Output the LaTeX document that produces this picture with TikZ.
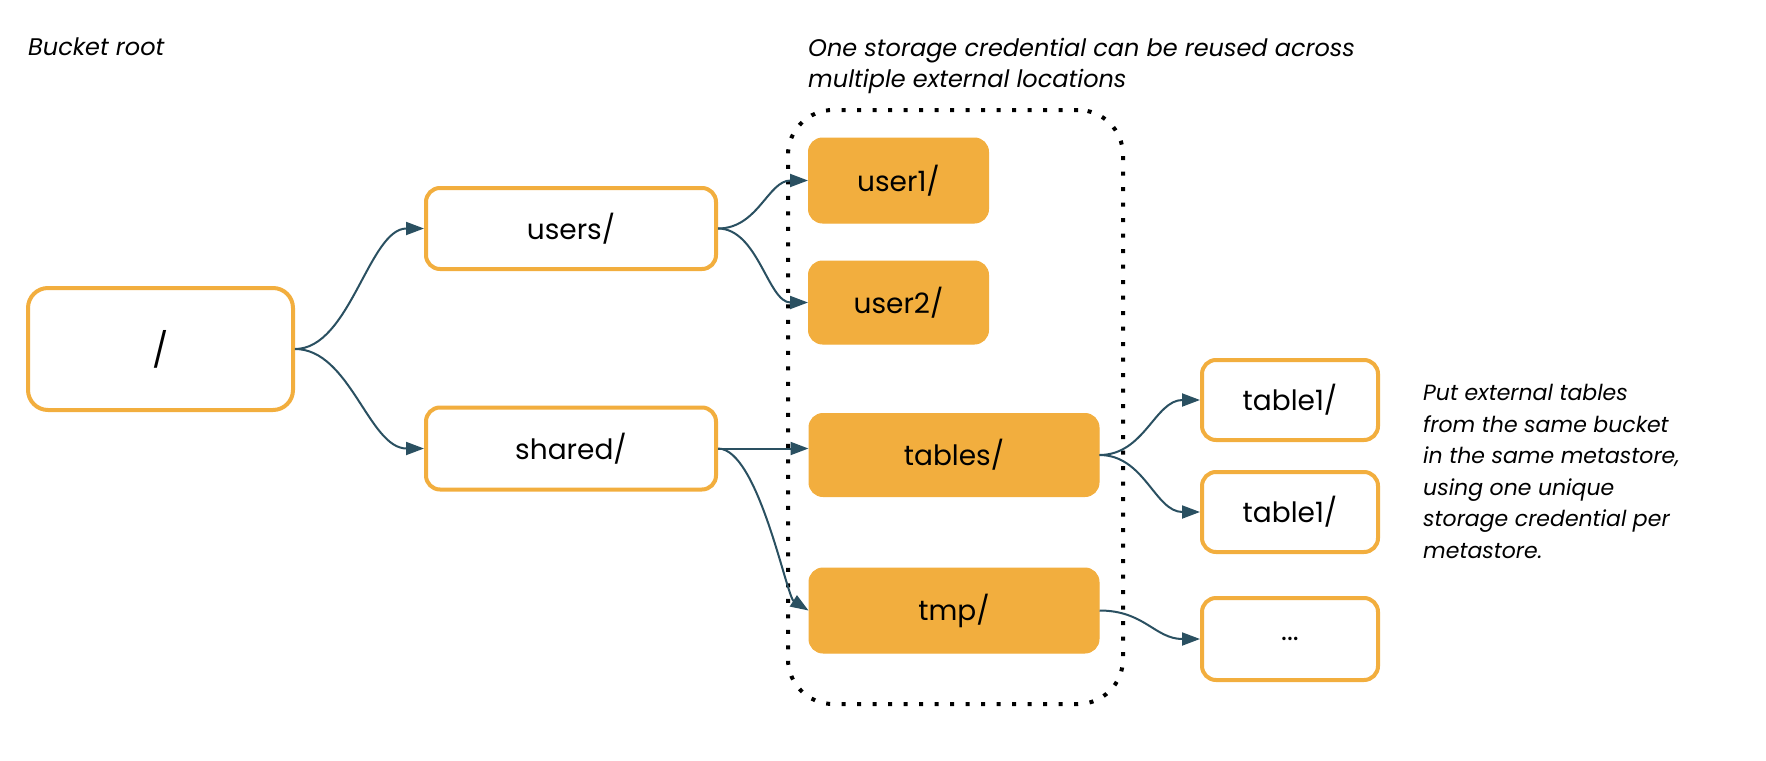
\documentclass[tikz,border=0pt]{standalone}
\usepackage{fontspec}
\setmainfont{Poppins}
\usetikzlibrary{arrows.meta}
\definecolor{orng}{HTML}{F2AE3E}
\definecolor{slate}{HTML}{2A5061}
\begin{document}
\begin{tikzpicture}[x=1pt,y=-1pt,
  outline/.style={draw=orng, line width=4pt, fill=white, rounded corners=14pt,
    font=\fontsize{28}{32}\selectfont, inner sep=0pt},
  solidbox/.style={draw=orng, fill=orng, line width=1pt, rounded corners=14pt,
    font=\fontsize{28}{32}\selectfont, inner sep=0pt},
  conn/.style={draw=slate, line width=2pt, -{Triangle[length=18pt,width=13pt]}},
  note/.style={font=\fontsize{24}{31.5}\selectfont\itshape, align=left, inner sep=0pt},
  group/.style={draw=black, line width=4pt, dash pattern=on 4pt off 11.5pt,
    rounded corners=45pt, inner sep=0pt}
]
\useasboundingbox (0,0) rectangle (1766,760);

% dotted group
\node[group, minimum width=335pt, minimum height=594pt] (grp) at (955.5,407) {};

% nodes
\node[outline, rounded corners=20pt, minimum width=265pt, minimum height=122pt,
  font=\fontsize{34}{38}\selectfont] (root) at (160.5,349) {/};
\node[outline, minimum width=290pt, minimum height=81pt] (users) at (571,228.5) {users/};
\node[outline, minimum width=290pt, minimum height=82pt] (shared) at (571,448.5) {shared/};
\node[solidbox, minimum width=180pt, minimum height=85pt] (user1) at (898.5,180.5) {user1/};
\node[solidbox, minimum width=180pt, minimum height=83pt] (user2) at (898.5,302.5) {user2/};
\node[solidbox, minimum width=290pt, minimum height=83pt] (tables) at (954,455) {tables/};
\node[solidbox, minimum width=290pt, minimum height=85pt] (tmp) at (954,610.5) {tmp/};
\node[outline, minimum width=176pt, minimum height=80pt] (t1a) at (1290,400) {table1/};
\node[outline, minimum width=176pt, minimum height=80pt] (t1b) at (1290,512) {table1/};
\node[outline, minimum width=176pt, minimum height=82pt] (more) at (1290,639) {...};

% notes
\node[note, anchor=north west] (bucket) at (28,38) {Bucket root};
\node[note, anchor=north west] (reuse) at (808,38) {One storage credential can be reused across\\multiple external locations};
\node[note, anchor=north west, font=\fontsize{22}{31.6}\selectfont\itshape] (put) at (1423,384) {Put external tables\\from the same bucket\\in the same metastore,\\using one unique\\storage credential per\\metastore.};

% connectors
\draw[conn] (root.east) .. controls +(55,0) and +(-55,0) .. (users.west);
\draw[conn] (root.east) .. controls +(55,0) and +(-55,0) .. (shared.west);
\draw[conn] (users.east) .. controls +(40,0) and +(-40,0) .. (user1.west);
\draw[conn] (users.east) .. controls +(40,0) and +(-40,0) .. (user2.west);
\draw[conn] (shared.east) -- (shared.east -| tables.west);
\draw[conn] (shared.east) .. controls +(40,0) and +(-22,-14) .. (tmp.west);
\draw[conn] (tables.east) .. controls +(45,0) and +(-45,0) .. (t1a.west);
\draw[conn] (tables.east) .. controls +(45,0) and +(-45,0) .. (t1b.west);
\draw[conn] (tmp.east) .. controls +(45,0) and +(-45,0) .. (more.west);
\end{tikzpicture}
\end{document}
